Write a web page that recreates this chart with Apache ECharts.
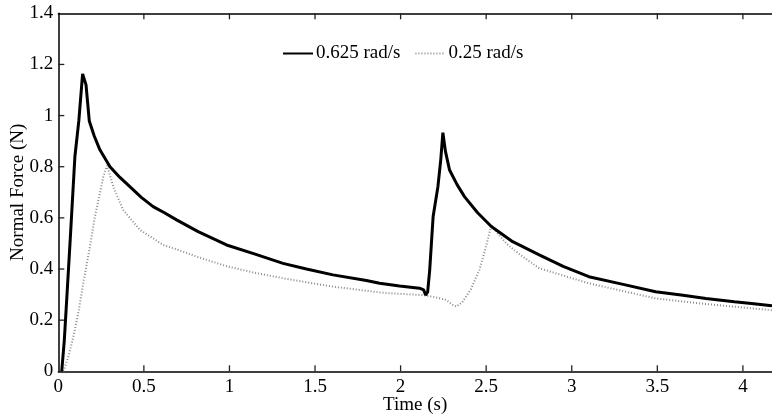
<!DOCTYPE html>
<html><head><meta charset="utf-8">
<script src="https://cdn.jsdelivr.net/npm/echarts@6/dist/echarts.min.js"></script>
<style>html,body{margin:0;padding:0;background:#fff}#c{width:772px;height:415px}</style>
</head><body><div id="c"></div>
<script>
const seriesNames = ['0.625 rad/s', '0.25 rad/s'];
const xTicks = [0.5, 1, 1.5, 2, 2.5, 3, 3.5, 4];
const yTicks = [0.2, 0.4, 0.6, 0.8, 1, 1.2];
const tFast = [0.02, 0.035, 0.049, 0.07, 0.097, 0.12, 0.142, 0.162, 0.181, 0.21, 0.243, 0.302, 0.36, 0.418, 0.485, 0.554, 0.62, 0.691, 0.817, 0.983, 1.15, 1.313, 1.45, 1.605, 1.8, 1.877, 1.994, 2.11, 2.135, 2.146, 2.158, 2.17, 2.18, 2.19, 2.218, 2.235, 2.247, 2.262, 2.286, 2.33, 2.373, 2.45, 2.53, 2.655, 2.81, 2.95, 3.10, 3.3, 3.49, 3.65, 3.784, 3.95, 4.05, 4.17];
const vFast = [0.0, 0.12, 0.279, 0.52, 0.84, 0.98, 1.163, 1.12, 0.979, 0.92, 0.866, 0.80, 0.758, 0.722, 0.68, 0.644, 0.62, 0.592, 0.546, 0.494, 0.458, 0.422, 0.40, 0.377, 0.355, 0.344, 0.334, 0.325, 0.318, 0.298, 0.31, 0.396, 0.5, 0.605, 0.722, 0.83, 0.933, 0.86, 0.787, 0.73, 0.683, 0.62, 0.566, 0.507, 0.455, 0.41, 0.37, 0.34, 0.311, 0.297, 0.285, 0.272, 0.265, 0.256];
const tSlow = [0.03, 0.06, 0.088, 0.12, 0.146, 0.18, 0.214, 0.263, 0.285, 0.321, 0.379, 0.477, 0.535, 0.613, 0.73, 0.81, 0.983, 1.15, 1.313, 1.605, 1.897, 1.994, 2.13, 2.2, 2.267, 2.3, 2.325, 2.36, 2.41, 2.46, 2.5, 2.53, 2.56, 2.617, 2.7, 2.81, 3.10, 3.49, 3.784, 4.154, 4.17];
const vSlow = [0.0, 0.06, 0.135, 0.24, 0.345, 0.47, 0.605, 0.761, 0.805, 0.722, 0.631, 0.553, 0.528, 0.494, 0.468, 0.448, 0.411, 0.385, 0.364, 0.331, 0.307, 0.303, 0.298, 0.29, 0.279, 0.262, 0.253, 0.27, 0.32, 0.396, 0.49, 0.572, 0.545, 0.50, 0.455, 0.403, 0.344, 0.285, 0.263, 0.240, 0.239];

const font = 'Liberation Serif';
const fs = 19;
const X_MAX = 4.17, Y_MAX = 1.4;
const chart = echarts.init(document.getElementById('c'));
const pairs = (t, v) => t.map((x, i) => [x, v[i]]);
const tickLen = 6;
const tickData = xTicks.map(v => [v, 0]).concat(yTicks.map(v => [0, v]));
chart.setOption({
  animation: false,
  grid: {left: 58.3, right: 0, top: 13.3, bottom: 43.7, containLabel: false, outerBoundsMode: 'none'},
  legend: {
    top: 39, left: 277, itemGap: 14, itemWidth: 30, itemHeight: 14,
    itemStyle: {opacity: 0},
    textStyle: {fontFamily: font, fontSize: fs, color: '#000', padding: [0, 0, 0, -2]},
    data: seriesNames
  },
  xAxis: [{
    type: 'value', min: 0, max: X_MAX, interval: 0.5, position: 'bottom',
    name: 'Time (s)', nameLocation: 'middle', nameGap: 24, nameMoveOverlap: false,
    nameTextStyle: {fontFamily: font, fontSize: fs, color: '#000'},
    axisLine: {show: true, onZero: false, lineStyle: {color: '#000', width: 1.5}},
    axisTick: {show: false},
    axisLabel: {showMaxLabel: false, fontFamily: font, fontSize: fs, color: '#000', margin: 6, formatter: v => String(v)},
    splitLine: {show: false}
  }, {
    type: 'value', min: 0, max: X_MAX, interval: 0.5, position: 'top',
    axisLine: {show: true, onZero: false, lineStyle: {color: '#000', width: 1.5}},
    axisTick: {show: false},
    axisLabel: {show: false}, splitLine: {show: false}
  }],
  yAxis: {
    type: 'value', min: 0, max: Y_MAX, interval: 0.2,
    name: 'Normal Force (N)', nameLocation: 'middle', nameGap: 31, nameMoveOverlap: false,
    nameTextStyle: {fontFamily: font, fontSize: fs, color: '#000'},
    axisLine: {show: true, onZero: false, lineStyle: {color: '#000', width: 1.5}},
    axisTick: {show: false},
    axisLabel: {fontFamily: font, fontSize: fs, color: '#000', margin: 5, formatter: v => String(Math.round(v * 10) / 10)},
    splitLine: {show: false}
  },
  series: [{
    name: seriesNames[0], type: 'line', data: pairs(tFast, vFast), showSymbol: false, symbol: 'none',
    lineStyle: {color: '#000', width: 3}, itemStyle: {color: '#000'}, z: 3
  }, {
    name: seriesNames[1], type: 'line', data: pairs(tSlow, vSlow), showSymbol: false, symbol: 'none',
    lineStyle: {color: '#8a8a8a', width: 2, type: [1, 2]}, itemStyle: {color: '#8a8a8a'}, z: 2
  }, {
    name: 'ticks', type: 'custom', clip: false, silent: true, z: 5,
    data: tickData,
    renderItem: (params, api) => {
      const xv = api.value(0), yv = api.value(1);
      const st = {stroke: '#222', lineWidth: 1.3, fill: null};
      if (yv === 0) {
        const b = api.coord([xv, 0]), t = api.coord([xv, Y_MAX]);
        return {type: 'group', children: [
          {type: 'line', shape: {x1: b[0], y1: b[1], x2: b[0], y2: b[1] - tickLen}, style: st},
          {type: 'line', shape: {x1: t[0], y1: t[1], x2: t[0], y2: t[1] + tickLen}, style: st}
        ]};
      }
      const l = api.coord([0, yv]);
      return {type: 'line', shape: {x1: l[0], y1: l[1], x2: l[0] + tickLen, y2: l[1]}, style: st};
    }
  }]
});
</script></body></html>
